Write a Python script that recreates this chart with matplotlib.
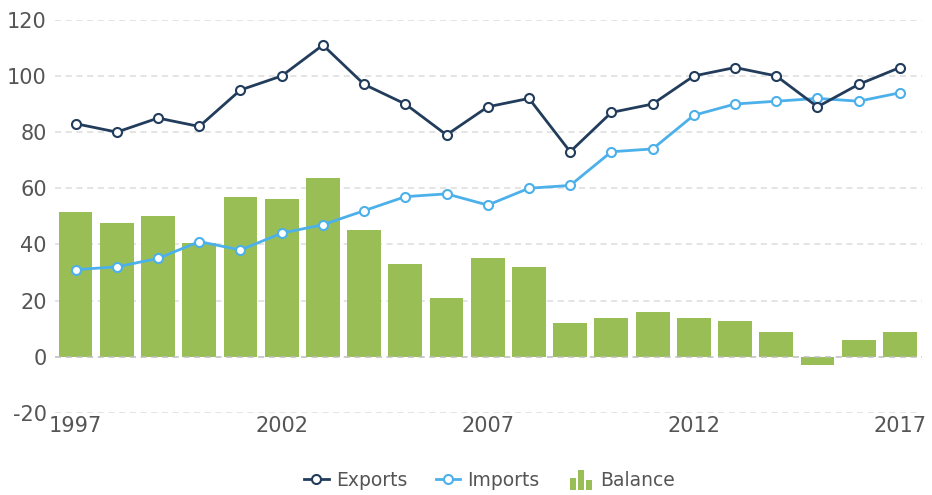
import numpy as np
import matplotlib.pyplot as plt
from matplotlib.legend_handler import HandlerBase
from matplotlib.patches import Rectangle

plt.rcParams['axes.unicode_minus'] = False

years = list(range(1997, 2018))
exports = [83, 80, 85, 82, 95, 100, 111, 97, 90, 79, 89, 92, 73, 87, 90, 100, 103, 100, 89, 97, 103]
imports = [31, 32, 35, 41, 38, 44, 47, 52, 57, 58, 54, 60, 61, 73, 74, 86, 90, 91, 92, 91, 94]
balance = [51.5, 47.5, 50, 40.5, 57, 56, 63.5, 45, 33, 20.8, 35, 32, 12, 13.7, 15.8, 13.7, 12.6, 8.7, -3, 5.9, 8.7]
xtick_years = [1997, 2002, 2007, 2012, 2017]
yticks = [-20, 0, 20, 40, 60, 80, 100, 120]

c_exp = '#223c5c'
c_imp = '#4cb0ea'
c_bal = '#9abe56'
c_txt = '#555555'


class BarIconHandler(HandlerBase):
    # little three-bar icon like the original legend
    def create_artists(self, legend, orig_handle, xdescent, ydescent,
                       width, height, fontsize, trans):
        arts = []
        w = width / 4.2
        for i, h in enumerate([0.9, 1.5, 0.7]):
            r = Rectangle((xdescent + width * 0.1 + i * w * 1.35, -ydescent - height * 0.3),
                          w, height * h, facecolor=c_bal, edgecolor='none',
                          transform=trans)
            arts.append(r)
        return arts


fig = plt.figure(figsize=(9.32, 4.95), dpi=100)
ax = fig.add_axes([0.059, 0.166, 0.93, 0.794])

x = np.array(years)
bars = ax.bar(x, balance, width=0.82, color=c_bal, zorder=2, label='Balance')
l1, = ax.plot(x, exports, color=c_exp, lw=2, marker='o', ms=6.5, mfc='white',
              mec=c_exp, mew=1.5, zorder=4, label='Exports')
l2, = ax.plot(x, imports, color=c_imp, lw=2, marker='o', ms=6.5, mfc='white',
              mec=c_imp, mew=1.5, zorder=3, label='Imports')

ax.set_xlim(1996.5, 2017.53)
ax.set_ylim(-20, 120)
ax.set_yticks(yticks)
ax.set_xticks(xtick_years)
ax.set_xticklabels([str(y) for y in xtick_years])

for yv in yticks:
    ax.axhline(yv, color='#bdbdbd' if yv == 0 else '#dcdcdc', lw=1.1,
               ls=(0, (4, 3)), zorder=1 if yv != 0 else 2.5)

for s in ax.spines.values():
    s.set_visible(False)
ax.tick_params(length=0, labelsize=15, colors=c_txt)
ax.tick_params(axis='y', pad=6)
ax.tick_params(axis='x', pad=2)
for lab in ax.get_yticklabels() + ax.get_xticklabels():
    lab.set_color(c_txt)

leg = fig.legend([l1, l2, bars], ['Exports', 'Imports', 'Balance'],
                 loc='center', bbox_to_anchor=(0.525, 0.03), ncol=3, frameon=False,
                 fontsize=13.5, handlelength=1.3, columnspacing=1.5, handletextpad=0.4,
                 handler_map={bars: BarIconHandler()})
for t in leg.get_texts():
    t.set_color(c_txt)

fig.savefig('out.png', dpi=100)
